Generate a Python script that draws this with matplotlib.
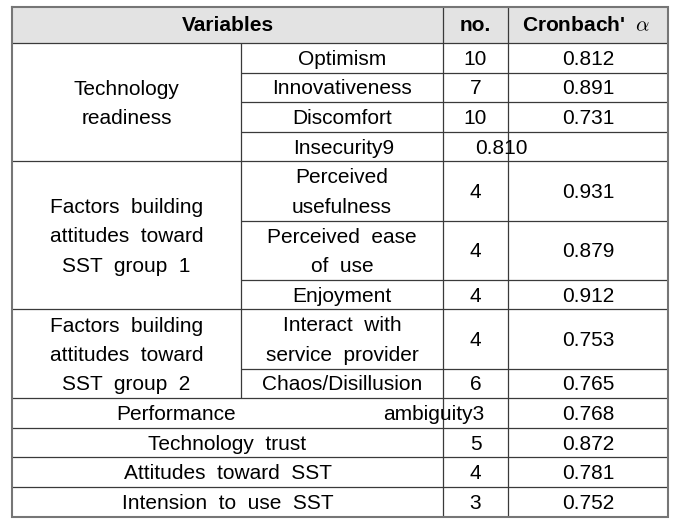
import matplotlib
matplotlib.use("Agg")
import matplotlib.pyplot as plt

plt.rcParams['font.family'] = ['Liberation Sans', 'DejaVu Sans']
plt.rcParams['mathtext.fontset'] = 'cm'

# table content
header = ["Variables", "no.", "Cronbach'  $\\alpha$"]

groups = ["Technology\nreadiness",
          "Factors  building\nattitudes  toward\nSST  group  1",
          "Factors  building\nattitudes  toward\nSST  group  2"]
group_size = [4, 3, 2]

items = ["Optimism", "Innovativeness", "Discomfort", "Insecurity9",
         "Perceived\nusefulness", "Perceived  ease\nof  use", "Enjoyment",
         "Interact  with\nservice  provider", "Chaos/Disillusion"]
item_no = ["10", "7", "10", "", "4", "4", "4", "4", "6"]
item_alpha = ["0.812", "0.891", "0.731", "0.810", "0.931", "0.879", "0.912", "0.753", "0.765"]

singles = ["Performance", "Technology  trust", "Attitudes  toward  SST", "Intension  to  use  SST"]
single_no = ["ambiguity3", "5", "4", "3"]
single_alpha = ["0.768", "0.872", "0.781", "0.752"]

# layout (pixels)
W, H = 688, 522
x0, x1, x2, x3, x4 = 12, 241, 443, 508, 668
y_top, y_head = 7, 43
row_h = 29.6
fs = 15.0
dy = 1.5
ls = 1.68
inner = dict(color='#3a3a3a', lw=0.9)

fig = plt.figure(figsize=(W / 100, H / 100), dpi=100)
ax = fig.add_axes([0, 0, 1, 1])
ax.set_xlim(0, W)
ax.set_ylim(H, 0)
ax.axis('off')


def cell(x, yc, s, ha='center', **kw):
    ax.text(x, yc + dy, s, ha=ha, va='center', fontsize=fs, linespacing=ls, **kw)


# header
ax.fill_between([x0, x4], y_top, y_head, color='#e3e3e3', lw=0)
hy = (y_top + y_head) / 2 - 1
cell((x0 + x2) / 2, hy, header[0], fontweight='bold')
cell((x2 + x3) / 2, hy, header[1], fontweight='bold')
cell((x3 + x4) / 2 - 2, hy, header[2], fontweight='bold')
ax.hlines(y_head, x0, x4, **inner)

# grouped rows
y = y_head
k = 0
for g, n in zip(groups, group_size):
    g_start = y
    for i in range(n):
        h = row_h * (items[k].count('\n') + 1)
        yc = y + h / 2
        if items[k] == "Insecurity9":
            cell((x1 + x2) / 2 + 2, yc, items[k])
            cell(501, yc, item_alpha[k])
        else:
            cell((x1 + x2) / 2, yc, items[k])
            cell((x2 + x3) / 2, yc, item_no[k])
            cell((x3 + x4) / 2, yc, item_alpha[k])
        y += h
        if i < n - 1:
            ax.hlines(y, x1, x4, **inner)
        k += 1
    cell((x0 + x1) / 2, (g_start + y) / 2, g)
    ax.hlines(y, x0, x4, **inner)
ax.vlines(x1, y_head, y, **inner)

# single rows
for j, s in enumerate(singles):
    yc = y + row_h / 2
    if s == "Performance":
        cell(176, yc, s)
        cell(484, yc, single_no[j], ha='right')
    else:
        cell((x0 + x2) / 2, yc, s)
        cell((x2 + x3) / 2, yc, single_no[j])
    cell((x3 + x4) / 2, yc, single_alpha[j])
    y += row_h
    if j < len(singles) - 1:
        ax.hlines(y, x0, x4, **inner)

ax.vlines([x2, x3], y_top, y, **inner)

# outer border
ax.plot([x0, x4, x4, x0, x0], [y_top, y_top, y, y, y_top], color='#767676', lw=1.5,
        solid_joinstyle='miter')

fig.savefig("out.png", dpi=100)
